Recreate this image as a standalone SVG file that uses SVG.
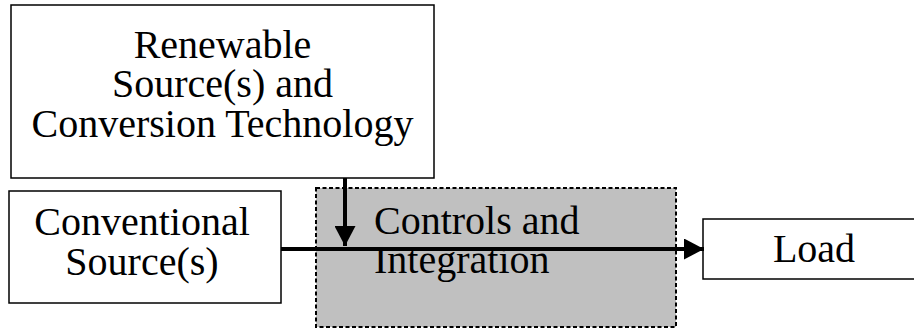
<svg xmlns="http://www.w3.org/2000/svg" width="914" height="330" viewBox="0 0 914 330">
<style>
.box{fill:#fff;stroke:#000;stroke-width:1.5}
.ctl{fill:#c0c0c0;stroke:#000;stroke-width:2;stroke-dasharray:4 2.5}
.t{font-family:"Liberation Serif","Times New Roman",serif;font-size:40px;fill:#000}
.c{text-anchor:middle}
.ln{stroke:#000;stroke-width:4;fill:none}
</style>
<defs>
<marker id="ah" markerUnits="userSpaceOnUse" markerWidth="21" markerHeight="21" refX="20" refY="10.5" orient="auto">
<path d="M0,0 L20,10.5 L0,21 Z" fill="#000"/>
</marker>
</defs>
<g id="controls">
<rect class="ctl" x="316" y="188" width="360" height="139"/>
<text class="t" x="374" y="234">Controls and</text>
<text class="t" x="374" y="273">Integration</text>
</g>
<g id="renewable">
<rect class="box" x="11" y="5" width="423" height="173"/>
<text class="t c" x="222.5" y="58">Renewable</text>
<text class="t c" x="222.5" y="97">Source(s) and</text>
<text class="t c" x="222.5" y="137">Conversion Technology</text>
</g>
<g id="conventional">
<rect class="box" x="9" y="191" width="272" height="112"/>
<text class="t c" x="142" y="235">Conventional</text>
<text class="t c" x="142" y="275">Source(s)</text>
</g>
<g id="load">
<rect class="box" x="703" y="219" width="222" height="60"/>
<text class="t c" x="814" y="262">Load</text>
</g>
<g id="connectors">
<line class="ln" x1="281" y1="249" x2="704" y2="249" marker-end="url(#ah)"/>
<line class="ln" x1="345" y1="178" x2="345" y2="246" marker-end="url(#ah)"/>
</g>
</svg>
